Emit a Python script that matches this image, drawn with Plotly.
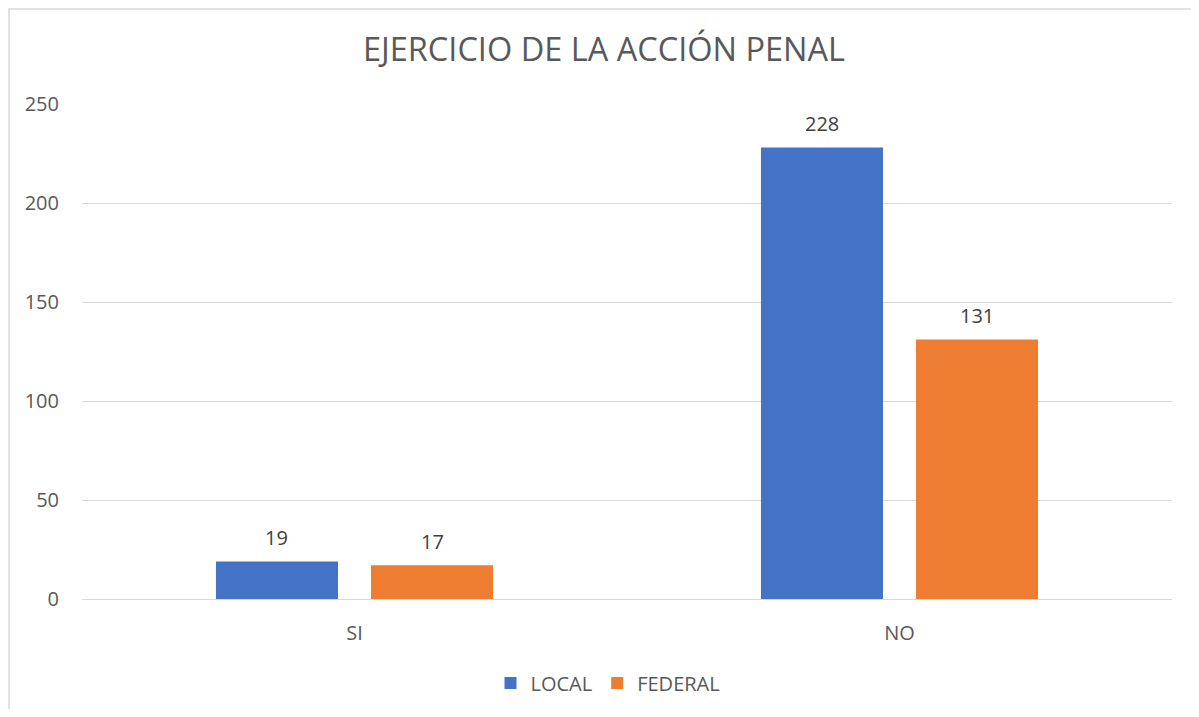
import plotly.graph_objects as go

categories = ["SI", "NO"]
local_vals = [19, 228]
federal_vals = [17, 131]
series_names = ["LOCAL", "FEDERAL"]
series_colors = ["#4472C4", "#ED7D31"]
title_text = "EJERCICIO DE LA ACCIÓN PENAL"

# page body has an 8px margin, so figure coords = screen coords - 8
O = 8
W, H = 1199 - 2 * O, 717 - 2 * O
L, T = 82 - O, 104 - O
pw, ph = 1090, 495
R = W - L - pw
B = H - T - ph

def px_x(x):
    return (x - O - L) / pw

def px_y(y):
    return (H - B - (y - O)) / ph

font_family = "Open Sans, Noto Sans, sans-serif"
gray = "#595959"
bargap, bargroupgap = 0.431, 0.213

fig = go.Figure()
for name, vals, col in zip(series_names, [local_vals, federal_vals], series_colors):
    fig.add_trace(go.Bar(name=name, x=categories, y=vals, marker_color=col,
                         marker_line_width=0, hoverinfo="x+y"))

# value labels placed above bars (grouped offsets derived from bar layout)
n = len(series_names)
cat_w = pw / len(categories)
slot = cat_w * (1 - bargap) / n
annotations = []
for i, vals in enumerate([local_vals, federal_vals]):
    shift = (i - (n - 1) / 2) * slot
    for c, v in zip(categories, vals):
        annotations.append(dict(x=c, y=v, xref="x", yref="y", text=str(v), showarrow=False,
                                xshift=shift, yshift=24, yanchor="middle",
                                font=dict(size=20, color="#404040", family=font_family)))

fig.update_layout(
    width=W, height=H,
    margin=dict(l=L, r=R, t=T, b=B, autoexpand=False),
    paper_bgcolor="white", plot_bgcolor="white",
    font=dict(family=font_family, color=gray, size=20),
    title=dict(text=title_text, x=px_x(604), xanchor="center", xref="paper",
               y=1 - (50 - O) / H, yanchor="middle",
               font=dict(size=32.5, color=gray, family=font_family)),
    barmode="group", bargap=bargap, bargroupgap=bargroupgap,
    showlegend=True,
    legend=dict(orientation="h", x=px_x(608), xanchor="center", y=px_y(683), yanchor="middle",
                font=dict(size=20, color=gray), itemwidth=30, traceorder="normal"),
    xaxis=dict(showgrid=False, ticks="", tickfont=dict(size=20, color=gray),
               showline=False, zeroline=False, ticklabelstandoff=20),
    yaxis=dict(range=[0, 250], dtick=50, showgrid=True, gridcolor="#D9D9D9", gridwidth=1,
               zeroline=True, zerolinecolor="#D9D9D9", zerolinewidth=1,
               tickfont=dict(size=20, color=gray), ticks="", ticklabelstandoff=22, showline=False),
    annotations=annotations,
    shapes=[dict(type="rect", xref="paper", yref="paper",
                 x0=px_x(9), x1=px_x(1192), y0=px_y(740), y1=px_y(9),
                 line=dict(color="#D9D9D9", width=1.5), fillcolor="rgba(0,0,0,0)", layer="below")],
)

fig.write_html("out.html")
